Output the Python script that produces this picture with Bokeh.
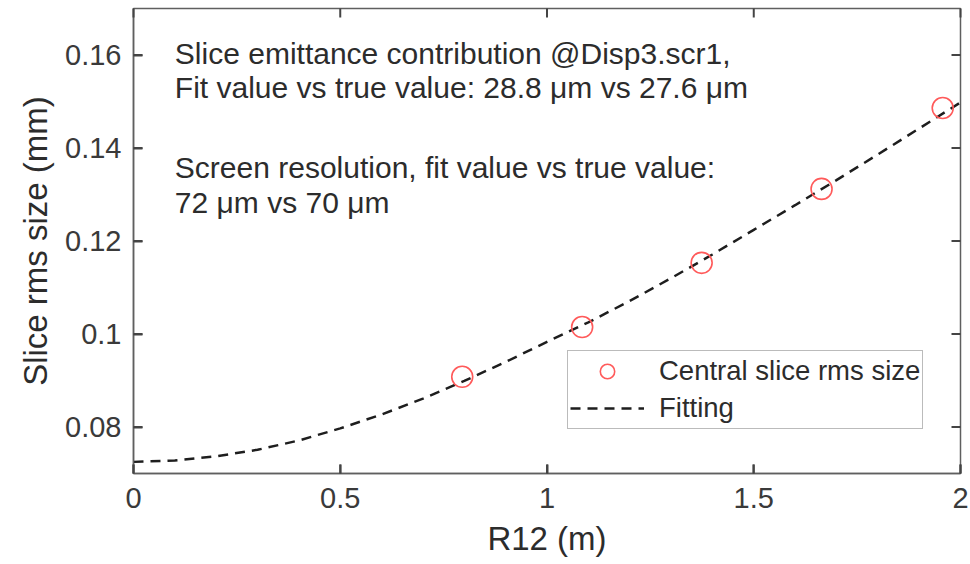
from bokeh.plotting import figure
from bokeh.models import (FixedTicker, Label, Legend, LegendItem, Range1d,
                          ColumnDataSource)
from bokeh.embed import file_html
from bokeh.resources import INLINE

# ---- data ----
r12_points = [0.795, 1.085, 1.374, 1.664, 1.957]
size_points = [0.0908, 0.1015, 0.1153, 0.1312, 0.1486]

fit_r12 = [0.0, 0.1, 0.2, 0.3, 0.4, 0.5, 0.6, 0.7, 0.8, 0.9, 1.0,
           1.1, 1.2, 1.3, 1.4, 1.5, 1.6, 1.7, 1.8, 1.9, 2.0]
fit_size = [0.0725, 0.0728, 0.0737, 0.0751, 0.0771, 0.0797, 0.0827, 0.0861,
            0.0899, 0.0940, 0.0983, 0.1025, 0.1071, 0.1120, 0.1171, 0.1224,
            0.1277, 0.1331, 0.1386, 0.1442, 0.1498]

x_ticks = [0, 0.5, 1, 1.5, 2]
x_tick_labels = ["0", "0.5", "1", "1.5", "2"]
y_ticks = [0.08, 0.10, 0.12, 0.14, 0.16]
y_tick_labels = ["0.08", "0.1", "0.12", "0.14", "0.16"]

annotation_lines = [
    "Slice emittance contribution @Disp3.scr1,",
    "Fit value vs true value: 28.8 \u03bcm vs 27.6 \u03bcm",
    "Screen resolution, fit value vs true value:",
    "72 \u03bcm  vs  70 \u03bcm",
]
annotation_y = [0.1604, 0.1531, 0.1358, 0.1283]

x_min, x_max = 0.0, 2.0
y_min, y_max = 0.07, 0.17

FONT = "Liberation Sans"
TXT = "#2c2c2c"
AX = "#5f5f5f"
TICK = "#444444"

FRAME_W, FRAME_H = 827, 465          # pixel size of the plot frame
TICK_PX = 9                           # inward tick length in pixels
tick_dx = (x_max - x_min) * TICK_PX / FRAME_W
tick_dy = (y_max - y_min) * TICK_PX / FRAME_H

p = figure(width=970, height=564, output_backend="svg", toolbar_location=None,
           x_range=Range1d(x_min, x_max), y_range=Range1d(y_min, y_max),
           min_border_left=133, min_border_right=10, min_border_top=8,
           min_border_bottom=91)
p.background_fill_color = "white"
p.border_fill_color = "white"
p.grid.visible = False
p.outline_line_color = AX
p.outline_line_width = 1.5

for ax in (p.xaxis[0], p.yaxis[0]):
    ax.major_tick_in = 9
    ax.major_tick_out = 0
    ax.major_tick_line_color = TICK
    ax.major_tick_line_width = 2
    ax.minor_tick_line_color = None
    ax.axis_line_color = AX
    ax.axis_line_width = 1.5
    ax.major_label_text_font = FONT
    ax.major_label_text_font_size = "29px"
    ax.major_label_text_color = "#3a3a3a"
    ax.axis_label_text_font = FONT
    ax.axis_label_text_font_size = "33px"
    ax.axis_label_text_font_style = "normal"
    ax.axis_label_text_color = TXT

p.xaxis[0].ticker = FixedTicker(ticks=x_ticks)
p.xaxis[0].major_label_overrides = dict(zip(x_ticks, x_tick_labels))
p.xaxis[0].major_label_standoff = 14
p.xaxis[0].axis_label = "R12 (m)"
p.xaxis[0].axis_label_standoff = 9

p.yaxis[0].ticker = FixedTicker(ticks=y_ticks)
p.yaxis[0].major_label_overrides = dict(zip(y_ticks, y_tick_labels))
p.yaxis[0].major_label_standoff = 12
p.yaxis[0].axis_label = "Slice rms size (mm)"
p.yaxis[0].axis_label_standoff = 8

# inward ticks on all four sides of the box (MATLAB style), drawn as segments
n_x, n_y = len(x_ticks), len(y_ticks)
tick_h = ColumnDataSource(dict(
    x0=x_ticks + x_ticks, x1=x_ticks + x_ticks,
    y0=[y_min] * n_x + [y_max] * n_x,
    y1=[y_min + tick_dy] * n_x + [y_max - tick_dy] * n_x))
tick_v = ColumnDataSource(dict(
    x0=[x_min] * n_y + [x_max] * n_y,
    x1=[x_min + tick_dx] * n_y + [x_max - tick_dx] * n_y,
    y0=y_ticks + y_ticks, y1=y_ticks + y_ticks))
p.segment(x0="x0", x1="x1", y0="y0", y1="y1", source=tick_h,
          line_color=TICK, line_width=2, level="overlay")
p.segment(x0="x0", x1="x1", y0="y0", y1="y1", source=tick_v,
          line_color=TICK, line_width=2, level="overlay")

fit_r = p.line(fit_r12, fit_size, line_color="#1e1e1e", line_width=2.5,
               line_dash="10 7")
pts_r = p.scatter(r12_points, size_points, marker="circle", size=21,
                  fill_color=None, line_color="#ff5a5a", line_width=1.6)

for txt, yy in zip(annotation_lines, annotation_y):
    p.add_layout(Label(x=0.1, y=yy, text=txt, text_font=FONT,
                       text_font_size="30px", text_color=TXT,
                       text_baseline="middle", text_align="left"))

legend = Legend(items=[LegendItem(label="Central slice rms size", renderers=[pts_r]),
                       LegendItem(label="Fitting", renderers=[fit_r])],
                location=(434, 44), label_text_font=FONT,
                label_text_font_size="27.5px", label_text_color=TXT,
                glyph_width=74, glyph_height=36, label_height=30,
                label_standoff=15, spacing=1, padding=2, margin=0,
                border_line_color="#777777", border_line_width=1.5,
                background_fill_alpha=1.0)
p.add_layout(legend, "center")

open("out.html", "w").write(file_html(p, INLINE))
